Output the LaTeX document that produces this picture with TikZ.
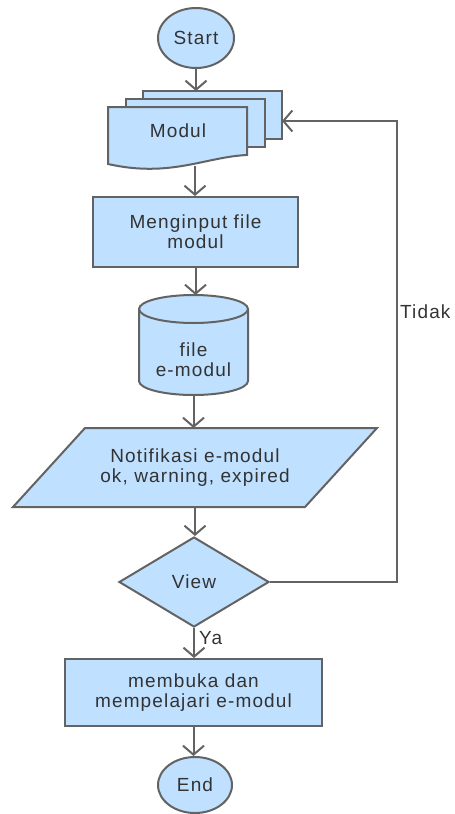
\documentclass[tikz,border=0pt]{standalone}
\usepackage{fontspec}
\setmainfont{Liberation Sans}[LetterSpace=6]
\usetikzlibrary{shapes.geometric,arrows.meta}
\definecolor{boxfill}{HTML}{BFE0FF}
\definecolor{boxline}{HTML}{636363}
\definecolor{txtcol}{HTML}{333333}
\tikzset{
  shp/.style={draw=boxline,fill=boxfill,line width=2pt},
  txt/.style={text=txtcol,font=\fontsize{19}{20}\selectfont,align=center,inner sep=0pt},
  ghost/.style={inner sep=0pt,outer sep=0pt},
  arr/.style={draw=boxline,line width=2pt,-{Straight Barb[length=9pt,width=21pt]}},
  lbl/.style={text=txtcol,font=\fontsize{19}{20}\selectfont,inner sep=0pt}
}
\begin{document}
\begin{tikzpicture}[x=1pt,y=-1pt]
\useasboundingbox (0,0) rectangle (455,814);
% Start
\node[shp,ellipse,minimum width=76pt,minimum height=60pt,inner sep=0pt] (start) at (196,38) {};
\node[txt] at (start) {Start};
% Modul multi-document
\node[ghost,minimum width=139pt,minimum height=48pt] (docback) at (212.5,115) {};
\draw[shp] (143,91) rectangle (282,139);
\draw[shp] (126,99) rectangle (265,147);
\draw[shp] (108,107) -- (247,107) -- (247,155)
  .. controls (205,157) and (170,178) .. (108,164) -- cycle;
\node[txt] (modul) at (178,131) {Modul};
\coordinate (docbottom) at (195,166);
% Menginput
\node[shp,rectangle,minimum width=205pt,minimum height=70pt,inner sep=0pt] (input) at (195.5,232) {};
\node[txt] at (input) {Menginput file\\modul};
% Cylinder
\node[ghost,minimum width=109pt,minimum height=100pt] (db) at (193.5,345) {};
\draw[shp] (139,309) -- (139,381) arc[start angle=180,end angle=360,x radius=54.5pt,y radius=14pt]
  -- (248,309) arc[start angle=0,end angle=180,x radius=54.5pt,y radius=14pt] -- cycle;
\draw[draw=boxline,line width=2pt] (139,309) arc[start angle=180,end angle=360,x radius=54.5pt,y radius=14pt];
\node[txt] at (193.5,360) {file\\e-modul};
% Parallelogram
\node[ghost,minimum width=220pt,minimum height=79pt] (notif) at (195,467.5) {};
\draw[shp] (85,428) -- (377,428) -- (305,507) -- (13,507) -- cycle;
\node[txt] at (195,468) {Notifikasi e-modul\\ok, warning, expired};
% Diamond
\node[shp,diamond,minimum width=150pt,minimum height=90pt,inner sep=0pt] (view) at (194,582) {};
\node[txt] at (view) {View};
% Process 2
\node[shp,rectangle,minimum width=257pt,minimum height=67pt,inner sep=0pt] (proc) at (193.5,692.5) {};
\node[txt] at (193.5,693) {membuka dan\\mempelajari e-modul};
% End
\node[shp,ellipse,minimum width=74pt,minimum height=56pt,inner sep=0pt] (end) at (195,785) {};
\node[txt] at (end) {End};
% connectors
\draw[arr] (start.south) -- (start.south |- docback.north);
\draw[arr] (docbottom) -- (docbottom |- input.north);
\draw[arr] (input.south) -- (input.south |- db.north);
\draw[arr] (db.south) -- (db.south |- notif.north);
\draw[arr] (notif.south) -- (notif.south |- view.north);
\draw[arr] (view.south) -- (view.south |- proc.north);
\draw[arr] (proc.south) -- (proc.south |- end.north);
\draw[arr] (view.east) -- ++(127,0) |- ([yshift=-6pt]docback.east);
\node[lbl,anchor=west] (tidak) at (400,312) {Tidak};
\node[lbl,anchor=west] (ya) at (199,638) {Ya};
\end{tikzpicture}
\end{document}
